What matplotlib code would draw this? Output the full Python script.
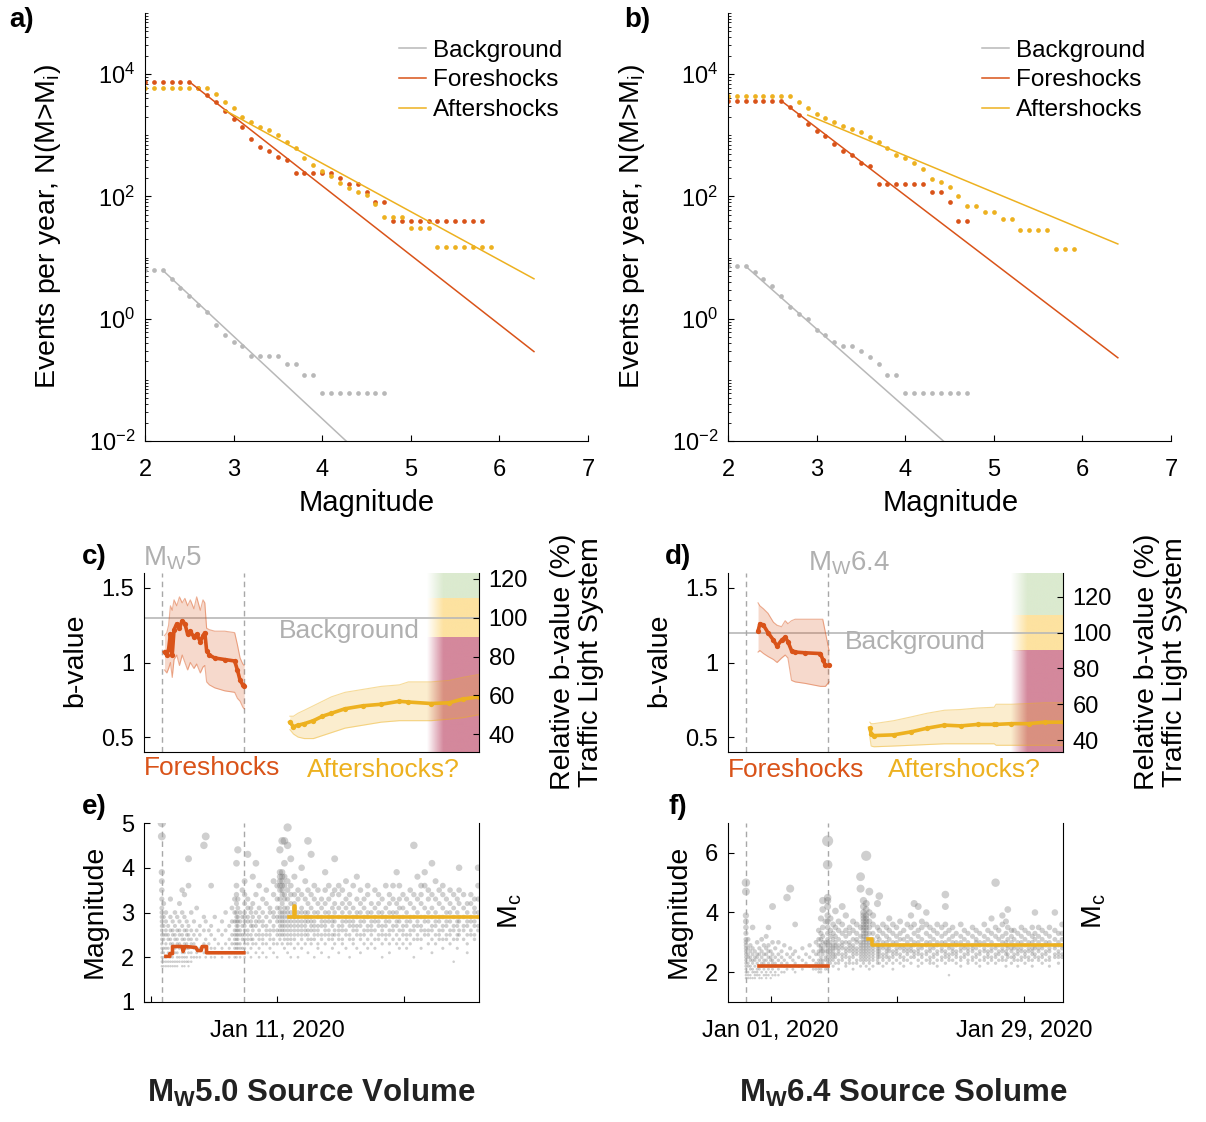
import numpy as np
import matplotlib
matplotlib.use("Agg")
import matplotlib.pyplot as plt
from matplotlib.colors import to_rgb
from matplotlib.ticker import LogLocator, NullFormatter

plt.rcParams['font.family'] = ['Liberation Sans', 'DejaVu Sans']
plt.rcParams['mathtext.fontset'] = 'custom'
plt.rcParams['mathtext.rm'] = 'Liberation Sans'
plt.rcParams['mathtext.it'] = 'Liberation Sans:italic'
plt.rcParams['mathtext.bf'] = 'Liberation Sans:bold'
plt.rcParams['xtick.direction'] = 'in'
plt.rcParams['ytick.direction'] = 'in'

RED = '#D95319'
YEL = '#EDB120'
GREY = '#b8b8b8'
TXT_GREY = '#b0b0b0'
TL_GREEN = '#dbeacf'
TL_YELLOW = '#fde2a0'
TL_RED = '#d4889c'

# ---------------- frequency-magnitude distributions (a, b) ----------------
mag_bins = [2.0, 2.1, 2.2, 2.3, 2.4, 2.5, 2.6, 2.7, 2.8, 2.9,
            3.0, 3.1, 3.2, 3.3, 3.4, 3.5, 3.6, 3.7, 3.8, 3.9,
            4.0, 4.1, 4.2, 4.3, 4.4, 4.5, 4.6, 4.7, 4.8, 4.9,
            5.0, 5.1, 5.2, 5.3, 5.4, 5.5, 5.6, 5.7, 5.8, 5.9]

# events per year with M > Mi, Mw5.0 source volume
bg_a_N = [6.2, 6.2, 6.2, 4.5, 3.2, 2.37, 1.65, 1.27, 0.78, 0.55, 0.42, 0.36,
          0.243, 0.243, 0.243, 0.243, 0.18, 0.18, 0.121, 0.121,
          0.061, 0.061, 0.061, 0.061, 0.061, 0.061, 0.061, 0.061]
fore_a_N = [7500, 7500, 7500, 7500, 7500, 7500, 6000, 4570, 3470, 2450,
            1860, 1380, 870, 645, 560, 447, 400, 240, 240, 240,
            240, 240, 200, 162, 162, 120, 81, 81, 40, 40,
            40, 40, 40, 40, 40, 40, 40, 40, 40]
after_a_N = [6000, 6000, 6000, 6000, 6000, 6000, 6000, 6000, 4700, 3550,
             2750, 2000, 1620, 1380, 1200, 1020, 780, 620, 430, 330,
             260, 215, 165, 138, 120, 107, 76, 46, 46, 46,
             30, 30, 30, 15, 15, 15, 15, 15, 15, 15]
bg_fit_a = ([2.2, 4.27], [6.2, 0.01])
fore_fit_a = ([2.5, 6.39], [7500, 0.29])
after_fit_a = ([2.9, 6.39], [2570, 4.5])

# events per year with M > Mi, Mw6.4 source volume
bg_b_N = [7.2, 7.2, 7.2, 5.8, 4.4, 3.4, 2.37, 1.57, 1.21, 0.98, 0.65, 0.54,
          0.42, 0.36, 0.36, 0.30, 0.24, 0.18, 0.121, 0.121,
          0.061, 0.061, 0.061, 0.061, 0.061, 0.061, 0.061, 0.061]
fore_b_N = [3670, 3670, 3670, 3670, 3670, 3670, 3670, 2880, 2140, 1510,
            1160, 980, 725, 550, 480, 355, 316, 162, 162, 162,
            162, 162, 162, 120, 120, 81, 40, 40]
after_b_N = [4370, 4370, 4370, 4370, 4370, 4370, 4370, 4370, 3550, 2820,
             2190, 1950, 1660, 1410, 1290, 1120, 930, 780, 620, 480,
             430, 355, 280, 195, 170, 141, 100, 71, 71, 56,
             56, 43, 43, 28, 28, 28, 28, 14, 14, 14]
bg_fit_b = ([2.2, 4.43], [7.2, 0.01])
fore_fit_b = ([2.6, 6.40], [3670, 0.23])
after_fit_b = ([2.9, 6.40], [2140, 16.7])

# ---------------- b-value time series (c, d), days since 2020-01-01 ----------------
m5_day = -2.75
m64_day = 6.33
tls_levels = [90, 110]          # traffic light thresholds, % of background b
tls_start = 26.5

bg_b_c = 1.3
fore_c_day = [-2.45, -2.2, -2.0, -1.8, -1.6, -1.4, -1.1, -0.8, -0.5, -0.2, 0.1, 0.4, 0.8,
              1.1, 1.5, 1.8, 2.0, 2.2, 2.5, 3.1, 4.2, 5.3, 5.6, 5.9, 6.2, 6.35]
fore_c_b = [1.07, 1.05, 1.09, 1.19, 1.05, 1.22, 1.26, 1.23, 1.28, 1.26, 1.19, 1.21, 1.17,
            1.19, 1.14, 1.18, 1.20, 1.08, 1.05, 1.03, 1.02, 1.01, 0.95, 0.88, 0.85, 0.84]
fore_c_lo = [0.95, 0.93, 0.96, 1.00, 0.90, 1.02, 1.05, 0.98, 1.05, 1.00, 0.95, 1.00, 0.96,
             0.99, 0.93, 0.97, 0.98, 0.87, 0.85, 0.83, 0.81, 0.80, 0.76, 0.74, 0.70, 0.69]
fore_c_hi = [1.18, 1.20, 1.25, 1.38, 1.35, 1.42, 1.38, 1.44, 1.40, 1.43, 1.38, 1.42, 1.36,
             1.44, 1.35, 1.42, 1.40, 1.23, 1.22, 1.21, 1.21, 1.20, 1.12, 1.03, 0.99, 0.98]
after_c_day = [11.4, 11.8, 12.3, 13.0, 14.0, 15.0, 16.0, 17.5, 19.5, 21.5, 23.5, 24.5,
               27.0, 29.0, 30.5, 32.3]
after_c_b = [0.60, 0.57, 0.58, 0.59, 0.61, 0.64, 0.66, 0.69, 0.71, 0.72, 0.74, 0.735,
             0.725, 0.73, 0.755, 0.77]
after_c_lo = [0.55, 0.52, 0.50, 0.49, 0.49, 0.51, 0.53, 0.56, 0.58, 0.60, 0.61, 0.61,
              0.61, 0.62, 0.63, 0.65]
after_c_hi = [0.64, 0.64, 0.66, 0.68, 0.71, 0.74, 0.77, 0.80, 0.82, 0.84, 0.85, 0.87,
              0.87, 0.88, 0.90, 0.92]

bg_b_d = 1.2
fore_d_day = [-1.4, -1.2, -0.8, -0.3, 0.3, 0.7, 1.2, 1.6, 1.9, 2.3, 2.7, 3.8, 5.5, 5.75,
              6.05, 6.45]
fore_d_b = [1.21, 1.26, 1.25, 1.20, 1.15, 1.11, 1.15, 1.17, 1.14, 1.08, 1.07, 1.065, 1.06,
            1.02, 0.98, 0.98]
fore_d_lo = [1.07, 1.08, 1.06, 1.04, 1.02, 1.00, 1.03, 1.05, 1.03, 0.88, 0.87, 0.86, 0.84,
             0.84, 0.84, 0.87]
fore_d_hi = [1.40, 1.38, 1.36, 1.33, 1.27, 1.25, 1.24, 1.28, 1.26, 1.28, 1.29, 1.29, 1.29,
             1.29, 1.20, 1.08]
after_d_day = [10.95, 11.1, 11.4, 13.6, 15.5, 17.3, 19.2, 21.0, 22.9, 24.7, 24.9, 26.6,
               28.5, 30.3, 32.4]
after_d_b = [0.56, 0.52, 0.51, 0.515, 0.535, 0.56, 0.58, 0.575, 0.585, 0.585, 0.585, 0.59,
             0.59, 0.60, 0.60]
after_d_lo = [0.50, 0.44, 0.435, 0.44, 0.445, 0.45, 0.455, 0.455, 0.455, 0.455, 0.445, 0.445,
              0.445, 0.445, 0.445]
after_d_hi = [0.60, 0.59, 0.59, 0.61, 0.635, 0.66, 0.68, 0.685, 0.695, 0.70, 0.72, 0.72,
              0.725, 0.73, 0.73]

# ---------------- catalogues (e, f): (day, magnitudes) ----------------
quakes_e = [
    (-2.75, [5.0, 4.7, 3.9, 3.7, 3.5, 3.3, 3.1, 3.0, 2.9, 2.8, 2.7, 2.6, 2.5, 2.4, 2.3, 2.2, 2.1, 2.0, 1.9, 1.8]),
    (-2.55, [3.2, 2.9, 2.7, 2.5, 2.4, 2.2, 2.1, 2.0, 1.9, 1.8]),
    (-2.3, [3.0, 2.8, 2.6, 2.5, 2.3, 2.2, 2.0, 1.9, 1.8]),
    (-2.05, [2.7, 2.5, 2.4, 2.2, 2.1, 1.9, 1.8]),
    (-1.8, [3.3, 2.9, 2.6, 2.4, 2.3, 2.1, 2.0, 1.9, 1.8]),
    (-1.55, [2.8, 2.6, 2.5, 2.3, 2.2, 2.0, 1.9, 1.8]),
    (-1.3, [3.0, 2.7, 2.5, 2.4, 2.2, 2.1, 1.9, 1.8]),
    (-1.05, [2.9, 2.6, 2.4, 2.3, 2.1, 2.0, 1.9, 1.8]),
    (-0.8, [3.2, 2.8, 2.6, 2.5, 2.3, 2.2, 2.0, 1.9]),
    (-0.5, [3.5, 3.0, 2.7, 2.5, 2.4, 2.2, 2.1, 2.0, 1.9, 1.8]),
    (-0.25, [3.4, 2.9, 2.6, 2.4, 2.3, 2.1, 2.0, 1.9, 1.8]),
    (0.0, [2.8, 2.6, 2.5, 2.3, 2.2, 2.0, 1.9]),
    (0.2, [4.2, 3.6, 2.7, 2.5, 2.4, 2.2, 2.1, 1.9, 1.8]),
    (0.5, [3.0, 2.6, 2.4, 2.3, 2.1, 2.0, 1.9]),
    (0.8, [2.8, 2.5, 2.3, 2.2, 2.0]),
    (1.1, [3.1, 2.6, 2.4, 2.1, 2.0]),
    (1.45, [2.7, 2.5, 2.2, 2.0]),
    (1.9, [4.5, 2.9, 2.6, 2.3, 2.1]),
    (2.1, [4.7, 2.8, 2.4, 2.2, 2.0]),
    (2.45, [2.6, 2.3, 2.1]),
    (2.7, [3.6, 2.7, 2.5, 2.2, 2.0]),
    (3.1, [2.9, 2.4, 2.2, 2.0]),
    (3.5, [2.6, 2.3, 2.1]),
    (3.9, [2.8, 2.5, 2.2, 2.0]),
    (4.3, [3.0, 2.6, 2.3, 2.1]),
    (4.7, [2.7, 2.4, 2.2, 2.0]),
    (5.0, [3.1, 2.8, 2.5, 2.3, 2.1]),
    (5.3, [3.3, 3.0, 2.8, 2.6, 2.5, 2.4, 2.3, 2.2, 2.1, 2.0]),
    (5.5, [4.1, 3.6, 3.4, 3.2, 3.0, 2.9, 2.8, 2.7, 2.6, 2.5, 2.4, 2.3, 2.2, 2.1, 2.0]),
    (5.65, [4.4, 3.3, 3.1, 2.9, 2.8, 2.7, 2.6, 2.5, 2.4, 2.3, 2.2, 2.1]),
    (5.9, [3.0, 2.8, 2.6, 2.5, 2.3, 2.2, 2.0]),
    (6.15, [3.5, 2.9, 2.7, 2.5, 2.4, 2.2, 2.1]),
    (6.4, [3.7, 3.4, 3.2, 3.0, 2.9, 2.8, 2.7, 2.6, 2.5, 2.4, 2.3, 2.2, 2.1, 2.0]),
    (6.75, [4.3, 3.3, 3.1, 2.9, 2.8, 2.6, 2.5, 2.4, 2.3, 2.1]),
    (7.1, [3.1, 3.0, 2.8, 2.7, 2.5, 2.4, 2.2, 2.0]),
    (7.3, [3.8, 3.2, 2.9, 2.7, 2.6, 2.4, 2.3]),
    (7.65, [4.1, 3.4, 3.0, 2.8, 2.7, 2.5, 2.3, 2.1]),
    (8.0, [3.6, 3.1, 2.9, 2.8, 2.6, 2.5, 2.4, 2.2, 2.0]),
    (8.4, [3.3, 3.0, 2.8, 2.7, 2.5, 2.4, 2.3, 2.1]),
    (8.8, [3.5, 3.2, 2.9, 2.7, 2.6, 2.5, 2.3, 2.0]),
    (9.2, [3.1, 3.0, 2.8, 2.6, 2.5, 2.4, 2.2]),
    (9.6, [3.7, 3.4, 3.0, 2.9, 2.7, 2.6, 2.4, 2.3, 2.1]),
    (10.0, [3.6, 3.3, 3.1, 2.9, 2.8, 2.6, 2.5, 2.3, 2.0]),
    (10.3, [4.4, 3.9, 3.8, 3.7, 3.6, 3.5, 3.3, 3.1, 3.0, 2.9, 2.8, 2.7, 2.6, 2.5, 2.4]),
    (10.55, [4.6, 3.9, 3.8, 3.7, 3.6, 3.5, 3.4, 3.2, 3.0, 2.9, 2.8, 2.7, 2.6, 2.5, 2.3]),
    (10.8, [4.6, 4.1, 3.8, 3.6, 3.4, 3.3, 3.1, 3.0, 2.9, 2.8, 2.7, 2.6, 2.5, 2.4, 2.2]),
    (11.15, [4.9, 4.5, 3.7, 3.5, 3.3, 3.1, 3.0, 2.9, 2.8, 2.7, 2.6, 2.5, 2.4, 2.3, 2.1]),
    (11.5, [4.2, 3.6, 3.4, 3.2, 3.0, 2.9, 2.8, 2.7, 2.6, 2.5, 2.4, 2.3, 2.0]),
    (11.9, [3.8, 3.4, 3.2, 3.1, 2.9, 2.8, 2.7, 2.6, 2.5, 2.4, 2.2]),
    (12.3, [3.5, 3.3, 3.0, 2.9, 2.8, 2.7, 2.6, 2.5, 2.3, 2.0]),
    (12.7, [4.0, 3.4, 3.1, 3.0, 2.8, 2.7, 2.6, 2.5, 2.4, 2.2]),
    (13.1, [3.7, 3.3, 3.0, 2.9, 2.8, 2.7, 2.6, 2.5, 2.3]),
    (13.4, [4.6, 3.5, 3.2, 3.0, 2.9, 2.8, 2.6, 2.5, 2.4, 2.1]),
    (13.75, [4.3, 3.4, 3.1, 2.9, 2.8, 2.7, 2.6, 2.4, 2.3]),
    (14.1, [3.6, 3.3, 3.0, 2.8, 2.7, 2.6, 2.5, 2.4, 2.0]),
    (14.5, [3.5, 3.2, 3.0, 2.9, 2.7, 2.6, 2.5, 2.3, 2.2]),
    (14.9, [3.3, 3.1, 2.9, 2.8, 2.7, 2.5, 2.4, 2.1]),
    (15.3, [3.9, 3.5, 3.2, 3.0, 2.8, 2.7, 2.6, 2.5, 2.3]),
    (15.7, [3.6, 3.3, 3.0, 2.9, 2.8, 2.6, 2.5, 2.4, 2.0]),
    (16.1, [3.4, 3.1, 2.9, 2.8, 2.7, 2.5, 2.4, 2.2]),
    (16.35, [4.2, 3.5, 3.2, 3.0, 2.8, 2.6, 2.5, 2.3]),
    (16.8, [3.6, 3.4, 3.1, 2.9, 2.7, 2.6, 2.5, 2.4, 2.1]),
    (17.2, [3.5, 3.2, 3.0, 2.8, 2.7, 2.6, 2.4, 2.3]),
    (17.6, [3.7, 3.3, 3.1, 2.9, 2.8, 2.6, 2.5, 2.2]),
    (18.0, [3.4, 3.2, 3.0, 2.8, 2.7, 2.5, 2.4, 2.0]),
    (18.4, [3.6, 3.1, 2.9, 2.8, 2.7, 2.6, 2.4, 2.3]),
    (18.8, [3.8, 3.3, 3.0, 2.9, 2.7, 2.6, 2.5, 2.2]),
    (19.2, [3.5, 3.2, 3.0, 2.8, 2.7, 2.5, 2.4, 2.1]),
    (19.6, [3.3, 3.1, 2.9, 2.8, 2.6, 2.5, 2.3]),
    (20.0, [3.6, 3.4, 3.0, 2.9, 2.7, 2.6, 2.4, 2.2]),
    (20.4, [3.2, 3.0, 2.8, 2.7, 2.6, 2.5, 2.3]),
    (20.8, [3.5, 3.1, 2.9, 2.8, 2.6, 2.4, 2.2]),
    (21.2, [3.4, 3.2, 3.0, 2.8, 2.7, 2.5, 2.4]),
    (21.6, [3.3, 3.0, 2.9, 2.7, 2.6, 2.5, 2.3, 2.0]),
    (22.0, [3.6, 3.1, 2.9, 2.8, 2.7, 2.5, 2.4]),
    (22.4, [3.4, 3.2, 3.0, 2.8, 2.6, 2.5, 2.3, 2.1]),
    (22.8, [3.6, 3.3, 3.0, 2.9, 2.7, 2.6, 2.4]),
    (23.2, [3.9, 3.2, 3.0, 2.8, 2.7, 2.5, 2.3]),
    (23.5, [3.6, 3.3, 3.1, 2.9, 2.8, 2.6, 2.4, 2.2]),
    (23.9, [3.4, 3.1, 2.9, 2.7, 2.6, 2.5, 2.3]),
    (24.3, [3.3, 3.0, 2.8, 2.7, 2.5, 2.4, 2.2]),
    (24.7, [3.5, 3.2, 2.9, 2.8, 2.6, 2.5, 2.3]),
    (25.1, [4.5, 3.4, 3.1, 2.9, 2.7, 2.6, 2.4, 2.0]),
    (25.5, [3.8, 3.3, 3.0, 2.8, 2.7, 2.5, 2.4]),
    (25.9, [3.6, 3.4, 3.2, 2.9, 2.7, 2.6, 2.4, 2.2]),
    (26.3, [3.9, 3.6, 3.1, 2.9, 2.8, 2.6, 2.5]),
    (26.7, [3.5, 3.3, 3.0, 2.8, 2.6, 2.5, 2.3]),
    (27.1, [4.1, 3.4, 3.1, 2.9, 2.7, 2.6, 2.4, 2.1]),
    (27.5, [3.7, 3.3, 3.0, 2.8, 2.7, 2.5, 2.3]),
    (27.9, [3.5, 3.2, 2.9, 2.8, 2.6, 2.5, 2.4]),
    (28.3, [3.6, 3.4, 3.1, 2.9, 2.7, 2.6, 2.4, 2.2]),
    (28.7, [3.3, 3.0, 2.8, 2.7, 2.5, 2.4]),
    (29.1, [3.5, 3.2, 3.0, 2.8, 2.6, 2.5, 2.3]),
    (29.5, [3.4, 3.1, 2.9, 2.7, 2.6, 2.4, 1.9]),
    (29.9, [3.3, 3.0, 2.8, 2.7, 2.5, 2.4, 2.2]),
    (30.1, [4.0, 3.5, 3.2, 2.9, 2.8, 2.6, 2.5]),
    (30.6, [3.4, 3.1, 2.9, 2.7, 2.6, 2.4]),
    (31.0, [3.2, 3.0, 2.8, 2.7, 2.5, 2.3, 2.1]),
    (31.4, [3.4, 3.2, 2.9, 2.8, 2.6, 2.5]),
    (31.8, [3.3, 3.1, 3.0, 2.8, 2.7, 2.5, 2.4]),
    (32.2, [4.0, 3.6, 3.3, 3.0, 2.9, 2.7, 2.6]),
]

quakes_f = [
    (-2.74, [5.0, 4.7, 3.9, 3.7, 3.5, 3.3, 3.1, 3.0, 2.9, 2.8, 2.7, 2.6, 2.5, 2.4, 2.3, 2.2, 2.1, 2.0, 1.9, 1.8]),
    (-2.5, [3.1, 2.8, 2.6, 2.5, 2.3, 2.2, 2.0, 1.9, 1.8]),
    (-2.25, [2.9, 2.7, 2.5, 2.4, 2.2, 2.1, 1.9, 1.8]),
    (-2.0, [3.5, 2.8, 2.6, 2.4, 2.3, 2.1, 2.0, 1.8]),
    (-1.75, [2.7, 2.5, 2.4, 2.2, 2.0, 1.9, 1.8]),
    (-1.5, [3.0, 2.6, 2.5, 2.3, 2.1, 2.0, 1.9]),
    (-1.25, [2.8, 2.6, 2.4, 2.2, 2.1, 1.9, 1.8]),
    (-1.0, [3.1, 2.7, 2.5, 2.3, 2.2, 2.0, 1.8]),
    (-0.75, [2.9, 2.6, 2.4, 2.3, 2.1, 1.9]),
    (-0.5, [3.2, 2.8, 2.6, 2.4, 2.2, 2.0, 1.9, 1.8]),
    (-0.25, [3.5, 2.9, 2.7, 2.5, 2.3, 2.1, 1.9]),
    (0.0, [2.7, 2.5, 2.4, 2.2, 2.0, 1.8]),
    (0.2, [4.2, 3.0, 2.6, 2.4, 2.3, 2.1, 1.9]),
    (0.5, [2.8, 2.5, 2.3, 2.2, 2.0, 1.9]),
    (0.85, [3.0, 2.6, 2.4, 2.1, 1.9]),
    (1.2, [2.7, 2.5, 2.3, 2.0]),
    (1.5, [2.9, 2.4, 2.2, 2.0]),
    (1.8, [4.5, 2.6, 2.3, 2.1]),
    (2.15, [4.8, 2.8, 2.5, 2.2]),
    (2.45, [2.6, 2.4, 2.1]),
    (2.7, [3.6, 2.7, 2.3, 2.0]),
    (3.1, [2.5, 2.2]),
    (3.5, [2.8, 2.4, 2.1]),
    (3.9, [2.6, 2.3]),
    (4.3, [2.9, 2.5, 2.2]),
    (4.7, [2.7, 2.4, 2.1]),
    (5.0, [3.0, 2.6, 2.3, 2.1]),
    (5.3, [3.4, 3.1, 2.9, 2.7, 2.6, 2.4, 2.3, 2.2, 2.1, 2.0]),
    (5.55, [3.8, 3.3, 3.1, 2.9, 2.8, 2.7, 2.5, 2.4, 2.3, 2.1, 2.0]),
    (5.75, [4.4, 4.1, 3.5, 3.2, 3.0, 2.8, 2.7, 2.6, 2.4, 2.3, 2.2]),
    (6.05, [3.7, 3.0, 2.9, 2.7, 2.5, 2.4, 2.2, 2.1]),
    (6.29, [6.4, 5.6, 4.5, 4.4, 4.2, 3.9, 3.7, 3.5, 3.3, 3.1, 3.0, 2.9, 2.8, 2.7, 2.6, 2.5, 2.4, 2.3, 2.2, 2.1]),
    (6.6, [3.8, 3.4, 3.2, 3.0, 2.9, 2.8, 2.7, 2.6, 2.5, 2.4, 2.3]),
    (6.9, [3.6, 3.3, 3.1, 2.9, 2.8, 2.7, 2.6, 2.5, 2.4, 2.2]),
    (7.15, [4.05, 3.5, 3.2, 3.0, 2.9, 2.8, 2.6, 2.5, 2.3]),
    (7.5, [3.7, 3.4, 3.1, 2.9, 2.8, 2.7, 2.6, 2.4, 2.3, 2.1]),
    (7.9, [4.2, 3.6, 3.3, 3.0, 2.9, 2.8, 2.6, 2.5, 2.4]),
    (8.3, [3.9, 3.4, 3.2, 3.0, 2.8, 2.7, 2.6, 2.5, 2.3, 2.2]),
    (8.7, [3.5, 3.3, 3.0, 2.9, 2.8, 2.7, 2.5, 2.4, 2.3]),
    (9.1, [3.7, 3.4, 3.1, 2.9, 2.8, 2.7, 2.6, 2.5, 2.3, 2.1]),
    (9.5, [3.6, 3.3, 3.1, 3.0, 2.8, 2.7, 2.6, 2.4, 2.3]),
    (9.93, [5.2, 4.8, 3.5, 3.2, 3.0, 2.9, 2.8, 2.7, 2.6, 2.5, 2.4, 2.2]),
    (10.25, [4.4, 4.2, 4.0, 3.9, 3.8, 3.7, 3.6, 3.5, 3.4, 3.3, 3.2, 3.1, 3.0, 2.9, 2.8, 2.7, 2.6, 2.5, 2.4, 2.3]),
    (10.55, [5.9, 4.3, 4.1, 3.9, 3.8, 3.7, 3.6, 3.5, 3.4, 3.3, 3.2, 3.1, 3.0, 2.9, 2.8, 2.7, 2.6, 2.5, 2.4, 2.2]),
    (10.9, [4.7, 4.0, 3.7, 3.5, 3.3, 3.1, 3.0, 2.9, 2.8, 2.7, 2.6, 2.5, 2.4, 2.3, 2.1]),
    (11.3, [3.9, 3.6, 3.3, 3.1, 3.0, 2.9, 2.8, 2.7, 2.6, 2.5, 2.4, 2.2]),
    (11.8, [4.3, 3.5, 3.2, 3.0, 2.9, 2.8, 2.7, 2.6, 2.5, 2.4, 2.3]),
    (12.0, [4.55, 3.4, 3.1, 2.9, 2.8, 2.7, 2.6, 2.5, 2.3]),
    (12.4, [3.6, 3.3, 3.0, 2.9, 2.8, 2.6, 2.5, 2.4, 2.2]),
    (12.8, [3.5, 3.2, 3.0, 2.8, 2.7, 2.6, 2.5, 2.3]),
    (13.1, [3.8, 3.4, 3.1, 2.9, 2.8, 2.7, 2.5, 2.4]),
    (13.5, [3.6, 3.3, 3.0, 2.9, 2.7, 2.6, 2.5, 2.3, 2.1]),
    (13.9, [3.5, 3.2, 3.0, 2.8, 2.7, 2.6, 2.4]),
    (14.3, [3.7, 3.3, 3.1, 2.9, 2.8, 2.6, 2.5, 2.3]),
    (14.7, [3.4, 3.1, 2.9, 2.8, 2.7, 2.5, 2.4, 2.2]),
    (15.1, [3.6, 3.2, 3.0, 2.8, 2.7, 2.6, 2.4]),
    (15.5, [3.9, 3.5, 3.1, 2.9, 2.8, 2.7, 2.5, 2.3]),
    (15.85, [4.3, 3.6, 3.3, 3.0, 2.9, 2.7, 2.6, 2.5]),
    (16.3, [4.2, 3.4, 3.2, 3.0, 2.8, 2.7, 2.6, 2.4, 2.2]),
    (16.7, [3.7, 3.5, 3.1, 2.9, 2.8, 2.6, 2.5, 2.3]),
    (17.2, [4.0, 3.6, 3.3, 3.0, 2.9, 2.7, 2.6, 2.4]),
    (17.6, [3.5, 3.2, 3.0, 2.8, 2.7, 2.5, 2.4, 2.3]),
    (18.0, [3.4, 3.1, 2.9, 2.8, 2.6, 2.5, 2.3]),
    (18.4, [3.6, 3.3, 3.0, 2.9, 2.7, 2.6, 2.4, 2.2]),
    (18.9, [3.5, 3.2, 3.0, 2.8, 2.7, 2.5, 2.4]),
    (19.3, [4.6, 4.2, 3.6, 3.3, 3.0, 2.9, 2.7, 2.6, 2.5, 2.3]),
    (19.7, [3.4, 3.1, 2.9, 2.8, 2.6, 2.5, 2.4, 1.9]),
    (20.1, [3.5, 3.2, 3.0, 2.8, 2.7, 2.6, 2.4]),
    (20.5, [3.3, 3.0, 2.9, 2.7, 2.6, 2.5, 2.3]),
    (21.0, [3.6, 3.2, 3.0, 2.8, 2.7, 2.5, 2.4, 2.2]),
    (21.4, [3.4, 3.1, 2.9, 2.8, 2.6, 2.5]),
    (21.8, [3.3, 3.0, 2.8, 2.7, 2.6, 2.4, 2.3]),
    (22.3, [3.5, 3.2, 2.9, 2.8, 2.7, 2.5, 2.4]),
    (22.7, [3.4, 3.1, 3.0, 2.8, 2.6, 2.5, 2.3]),
    (23.1, [3.3, 3.0, 2.9, 2.7, 2.6, 2.4, 2.2]),
    (23.6, [3.6, 3.2, 3.0, 2.8, 2.7, 2.5, 2.4]),
    (24.0, [3.4, 3.1, 2.9, 2.7, 2.6, 2.5, 2.3]),
    (24.4, [3.8, 3.3, 3.0, 2.8, 2.7, 2.5, 2.4]),
    (24.85, [5.0, 3.5, 3.2, 2.9, 2.8, 2.6, 2.5, 2.3]),
    (25.2, [3.4, 3.1, 2.9, 2.7, 2.6, 2.4]),
    (25.6, [3.9, 3.6, 3.2, 3.0, 2.8, 2.7, 2.5, 2.4]),
    (26.0, [3.7, 3.3, 3.0, 2.9, 2.7, 2.6, 2.4, 2.2]),
    (26.2, [4.1, 3.5, 3.1, 2.9, 2.8, 2.6, 2.5]),
    (26.6, [3.4, 3.2, 3.0, 2.8, 2.7, 2.5, 2.3]),
    (26.9, [3.4, 3.1, 2.9, 2.8, 2.6, 2.5, 2.4]),
    (27.3, [3.3, 3.0, 2.8, 2.7, 2.6, 2.4, 2.2]),
    (27.7, [3.5, 3.2, 3.0, 2.8, 2.7, 2.5, 2.4]),
    (28.1, [3.4, 3.1, 2.9, 2.7, 2.6, 2.5, 2.3]),
    (28.5, [3.3, 3.0, 2.8, 2.7, 2.5, 2.4]),
    (28.9, [3.5, 3.2, 3.0, 2.8, 2.7, 2.6, 2.4, 2.2]),
    (29.2, [4.0, 3.3, 3.1, 2.9, 2.8, 2.6, 2.5]),
    (29.6, [3.5, 3.2, 3.0, 2.8, 2.7, 2.5, 2.4]),
    (30.0, [3.4, 3.1, 2.9, 2.8, 2.6, 2.5, 2.3]),
    (30.4, [3.3, 3.0, 2.9, 2.7, 2.6, 2.4]),
    (30.8, [3.5, 3.2, 3.0, 2.8, 2.7, 2.5, 2.4, 2.2]),
    (31.4, [4.0, 3.4, 3.1, 2.9, 2.8, 2.6, 2.5]),
    (31.8, [3.3, 3.0, 2.9, 2.7, 2.6, 2.5, 2.3]),
    (32.2, [3.6, 3.3, 3.1, 2.9, 2.8, 2.6, 2.5]),
]

# magnitude of completeness through time
mc_fore_e = ([-2.3, -1.87, -1.87, -1.57, -1.57, -0.5, -0.4, -0.2, 1.0, 1.2, 1.6, 1.7, 2.19, 2.19, 6.31],
             [2.02, 2.02, 2.08, 2.08, 2.24, 2.24, 2.13, 2.24, 2.22, 2.15, 2.15, 2.24, 2.24, 2.10, 2.10])
mc_after_e = ([11.32, 11.86, 11.86, 11.95, 11.95, 32.3],
              [2.91, 2.91, 3.15, 3.15, 2.91, 2.91])
mc_fore_f = ([-1.27, 6.29], [2.2, 2.2])
mc_after_f = ([10.78, 11.15, 11.15, 32.4], [3.12, 3.12, 2.90, 2.90])

# ---------------- figure ----------------
W, H = 1206, 1122
fig = plt.figure(figsize=(W / 100, H / 100), dpi=100)


def box(l, t, r, b):
    return [l / W, 1 - b / H, (r - l) / W, (b - t) / H]


def ftext(x, y, s, **kw):
    kw.setdefault('ha', 'center')
    kw.setdefault('va', 'center')
    fig.text(x / W, 1 - y / H, s, **kw)


TICK = 17
LABEL = 21
xlim_t = (-4.72, 32.3)


def style_ticks(ax):
    ax.tick_params(which='major', length=4, width=0.8, labelsize=TICK)
    ax.tick_params(which='minor', length=2.2, width=0.6)


def draw_fmd(ax, bg_N, fore_N, after_N, bg_fit, fore_fit, after_fit):
    ax.plot(mag_bins[:len(bg_N)], bg_N, 'o', color=GREY, ms=3.4, mew=0)
    ax.plot(mag_bins[:len(fore_N)], fore_N, 'o', color=RED, ms=3.4, mew=0)
    ax.plot(mag_bins[:len(after_N)], after_N, 'o', color=YEL, ms=3.4, mew=0)
    ax.plot(*bg_fit, color=GREY, lw=1.1, label='Background')
    ax.plot(*fore_fit, color=RED, lw=1.1, label='Foreshocks')
    ax.plot(*after_fit, color=YEL, lw=1.1, label='Aftershocks')
    ax.set_yscale('log')
    ax.set_xlim(2, 7)
    ax.set_ylim(1e-2, 1e5)
    ax.set_xticks([2, 3, 4, 5, 6, 7])
    ax.set_yticks([1e-2, 1e0, 1e2, 1e4])
    ax.yaxis.set_minor_locator(LogLocator(base=10, subs=np.arange(1, 10), numticks=30))
    ax.yaxis.set_minor_formatter(NullFormatter())
    for s in ('top', 'right'):
        ax.spines[s].set_visible(False)
    style_ticks(ax)
    ax.tick_params(axis='x', pad=13)
    ax.tick_params(axis='y', pad=7)
    ax.legend(loc='upper left', bbox_to_anchor=(0.574, 0.938), frameon=False,
              fontsize=17.5, handlelength=1.1, handletextpad=0.3,
              labelspacing=0.32, borderpad=0, borderaxespad=0)


def traffic_light(ax, bg, x0, x1):
    lo_pct, hi_pct = tls_levels
    bands = [(TL_GREEN, hi_pct / 100 * bg, 1.6),
             (TL_YELLOW, lo_pct / 100 * bg, hi_pct / 100 * bg),
             (TL_RED, 0.4, lo_pct / 100 * bg)]
    xs = np.linspace(x0, x1, 300)
    for color, lo, hi in bands:
        img = np.zeros((1, xs.size, 4))
        img[..., :3] = to_rgb(color)
        img[0, :, 3] = np.clip((xs - x0) / 1.8, 0, 1)
        ax.imshow(img, extent=[x0, x1, lo, hi], aspect='auto',
                  interpolation='bilinear', zorder=0.5)


def draw_bvalue(ax, bg, fore, after):
    traffic_light(ax, bg, tls_start, xlim_t[1])
    ax.axhline(bg, color=GREY, lw=1.2, zorder=1)
    for x in (m5_day, m64_day):
        ax.axvline(x, color='#a8a8a8', ls=(0, (4, 3)), lw=1, zorder=1)
    for (day, b, lo, hi), col in ((fore, RED), (after, YEL)):
        ax.fill_between(day, lo, hi, color=col, alpha=0.22, lw=0, zorder=2)
        ax.plot(day, lo, color=col, alpha=0.45, lw=0.8, zorder=2)
        ax.plot(day, hi, color=col, alpha=0.45, lw=0.8, zorder=2)
        ax.plot(day, b, '-o', color=col, lw=2.6, ms=3.8, mew=0, zorder=3)
    ax.set_xlim(*xlim_t)
    ax.set_ylim(0.4, 1.6)
    ax.set_xticks([])
    ax.set_yticks([0.5, 1.0, 1.5])
    ax.set_yticklabels(['0.5', '1', '1.5'])
    ax.spines['top'].set_visible(False)
    ax.spines['right'].set_visible(False)
    style_ticks(ax)
    ax.tick_params(axis='y', pad=7)
    ax2 = ax.twinx()
    ax2.set_ylim(0.4 / bg * 100, 1.6 / bg * 100)
    ax2.set_yticks([40, 60, 80, 100, 120])
    for s in ('top', 'left', 'bottom'):
        ax2.spines[s].set_visible(False)
    style_ticks(ax2)
    ax2.tick_params(axis='y', pad=7)


def draw_catalog(ax, quakes, mc_fore, mc_after, ylim, yticks, xticks, xticklabels):
    days = [d for d, ms in quakes for _ in ms]
    mags = np.array([m for _, ms in quakes for m in ms])
    # bubble diameter grows with magnitude (px -> pt)
    diam = 1.6 + 1.9 * (mags - 1.4)
    ax.scatter(days, mags, s=(diam / 1.389) ** 2, color='#7a7a7a', alpha=0.36,
               lw=0, zorder=1)
    for x in (m5_day, m64_day):
        ax.axvline(x, color='#a8a8a8', ls=(0, (4, 3)), lw=1, zorder=2)
    ax.plot(*mc_fore, color=RED, lw=2.6, zorder=3)
    ax.plot(*mc_after, color=YEL, lw=2.6, zorder=3)
    ax.set_xlim(*xlim_t)
    ax.set_ylim(*ylim)
    ax.set_yticks(yticks)
    ax.set_xticks(xticks)
    ax.set_xticklabels(xticklabels)
    ax.spines['top'].set_visible(False)
    style_ticks(ax)
    ax.tick_params(axis='x', pad=13)
    ax.tick_params(axis='y', pad=7)


ax_a = fig.add_axes(box(145, 13, 588, 441))
ax_b = fig.add_axes(box(728, 13, 1171, 441))
ax_c = fig.add_axes(box(144, 573, 479, 752))
ax_d = fig.add_axes(box(728, 573, 1063, 752))
ax_e = fig.add_axes(box(144, 823, 479, 1002))
ax_f = fig.add_axes(box(728, 823, 1063, 1002))

draw_fmd(ax_a, bg_a_N, fore_a_N, after_a_N, bg_fit_a, fore_fit_a, after_fit_a)
draw_fmd(ax_b, bg_b_N, fore_b_N, after_b_N, bg_fit_b, fore_fit_b, after_fit_b)

draw_bvalue(ax_c, bg_b_c,
            (fore_c_day, fore_c_b, fore_c_lo, fore_c_hi),
            (after_c_day, after_c_b, after_c_lo, after_c_hi))
draw_bvalue(ax_d, bg_b_d,
            (fore_d_day, fore_d_b, fore_d_lo, fore_d_hi),
            (after_d_day, after_d_b, after_d_lo, after_d_hi))
ax_c.text(18.0, 1.211, 'Background', color=TXT_GREY, fontsize=19, ha='center', va='center', zorder=4)
ax_d.text(16.0, 1.138, 'Background', color=TXT_GREY, fontsize=19, ha='center', va='center', zorder=4)
ax_c.text(-4.85, 1.648, r'M$_\mathrm{W}$5', color=TXT_GREY, fontsize=20,
          ha='left', va='baseline', clip_on=False)
ax_d.text(4.14, 1.614, r'M$_\mathrm{W}$6.4', color=TXT_GREY, fontsize=20,
          ha='left', va='baseline', clip_on=False)

draw_catalog(ax_e, quakes_e, mc_fore_e, mc_after_e, (1, 5), [1, 2, 3, 4, 5],
             [-4, 10, 24], ['', 'Jan 11, 2020', ''])
draw_catalog(ax_f, quakes_f, mc_fore_f, mc_after_f, (1, 7), [2, 4, 6],
             [0, 14, 28], ['Jan 01, 2020', '', 'Jan 29, 2020'])

# axis labels and annotations
for dx in (0, 584):
    ftext(48 + dx, 227, r'Events per year, N(M>M$_\mathrm{i}$)', fontsize=20.5, rotation=90)
    ftext(367 + dx, 503, 'Magnitude', fontsize=LABEL)
    ftext(75 + dx, 660, 'b-value', fontsize=20.5, rotation=90)
    ftext(577 + dx, 662, 'Relative b-value (%)\nTraffic Light System', fontsize=20.5,
          rotation=90, linespacing=1.1)
    ftext(95 + dx, 911, 'Magnitude', fontsize=20.5, rotation=90)
    ftext(510 + dx, 911, r'M$_\mathrm{c}$', fontsize=20.5, rotation=90)

ftext(212, 768, 'Foreshocks', fontsize=19, color=RED)
ftext(383, 770, 'Aftershocks?', fontsize=19, color=YEL)
ftext(796, 770, 'Foreshocks', fontsize=19, color=RED)
ftext(964, 770, 'Aftershocks?', fontsize=19, color=YEL)

for s, x, y in (('a)', 22, 20), ('b)', 637, 20), ('c)', 94, 557),
                ('d)', 678, 557), ('e)', 94, 807), ('f)', 678, 807)):
    ftext(x, y, s, fontsize=20, fontweight='bold')

ftext(311, 1093, r'M$_\mathbf{W}$5.0 Source Volume', fontsize=22.5, fontweight='bold', color='#222222')
ftext(903, 1093, r'M$_\mathbf{W}$6.4 Source Solume', fontsize=22.5, fontweight='bold', color='#222222')

fig.savefig('out.png', dpi=100)
